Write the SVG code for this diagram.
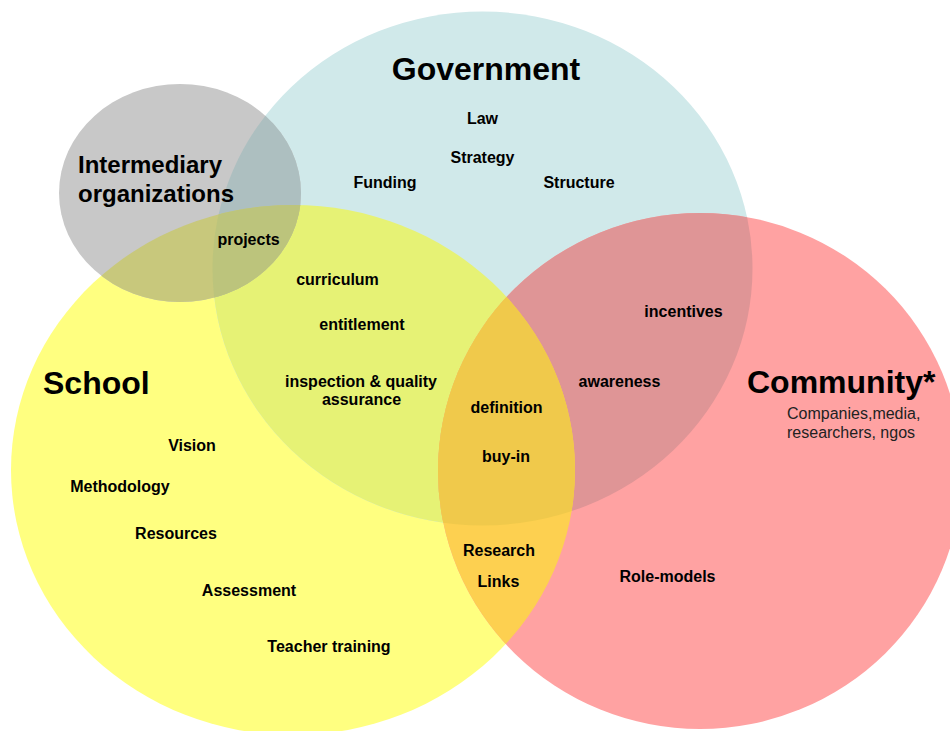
<svg xmlns="http://www.w3.org/2000/svg" xmlns:xlink="http://www.w3.org/1999/xlink" width="950" height="731" viewBox="0 0 950 731">
  <style>
    text { font-family: "Liberation Sans", Arial, sans-serif; fill: #000; }
    .title { font-size: 32px; font-weight: bold; }
    .sub { font-size: 24px; font-weight: bold; }
    .lbl { font-size: 16px; font-weight: bold; text-anchor: middle; }
    .note { font-size: 16px; fill: #222; }
  </style>
  <defs>
    <ellipse id="gov" cx="482.5" cy="268.5" rx="270" ry="257"/>
    <ellipse id="sch" cx="293" cy="470" rx="282" ry="265"/>
    <ellipse id="com" cx="700" cy="471" rx="262" ry="258"/>
    <ellipse id="int" cx="180" cy="193" rx="121" ry="109"/>
    <clipPath id="cGov"><use xlink:href="#gov"/></clipPath>
    <clipPath id="cSch"><use xlink:href="#sch"/></clipPath>
    <clipPath id="cCom"><use xlink:href="#com"/></clipPath>
    <clipPath id="cInt"><use xlink:href="#int"/></clipPath>
  </defs>

  <rect width="950" height="731" fill="#fff"/>

  <!-- base sets -->
  <g id="school"><use xlink:href="#sch" fill="#ffff80"/></g>
  <g id="government"><use xlink:href="#gov" fill="#d0e9ea"/></g>
  <g id="community"><use xlink:href="#com" fill="#ffa2a2"/></g>
  <g id="intermediary"><use xlink:href="#int" fill="#c8c8c8"/></g>

  <!-- shared regions -->
  <g id="overlaps">
    <use xlink:href="#gov" fill="#e6f275" clip-path="url(#cSch)"/>
    <use xlink:href="#gov" fill="#df9596" clip-path="url(#cCom)"/>
    <use xlink:href="#sch" fill="#fdd050" clip-path="url(#cCom)"/>
    <g clip-path="url(#cGov)"><use xlink:href="#sch" fill="#f0c94b" clip-path="url(#cCom)"/></g>
    <use xlink:href="#int" fill="#adbfc0" clip-path="url(#cGov)"/>
    <use xlink:href="#int" fill="#c8c87c" clip-path="url(#cSch)"/>
    <g clip-path="url(#cGov)"><use xlink:href="#int" fill="#bcc47c" clip-path="url(#cSch)"/></g>
  </g>

  <!-- titles -->
  <g id="titles">
    <text class="title" x="486" y="80" text-anchor="middle">Government</text>
    <text class="title" x="43" y="394">School</text>
    <text class="title" x="747" y="393">Community*</text>
    <text class="note" x="787" y="419">Companies,media,</text>
    <text class="note" x="787" y="438">researchers, ngos</text>
    <text class="sub" x="78" y="173">Intermediary</text>
    <text class="sub" x="78" y="202">organizations</text>
  </g>

  <!-- government items -->
  <g id="gov-labels">
    <text class="lbl" x="482.5" y="124">Law</text>
    <text class="lbl" x="482.5" y="163">Strategy</text>
    <text class="lbl" x="385" y="188">Funding</text>
    <text class="lbl" x="579" y="188">Structure</text>
  </g>

  <!-- school items -->
  <g id="school-labels">
    <text class="lbl" x="192" y="451">Vision</text>
    <text class="lbl" x="120" y="492">Methodology</text>
    <text class="lbl" x="176" y="539">Resources</text>
    <text class="lbl" x="249" y="596">Assessment</text>
    <text class="lbl" x="329" y="652">Teacher training</text>
  </g>

  <!-- school & government -->
  <g id="school-gov-labels">
    <text class="lbl" x="248.5" y="245">projects</text>
    <text class="lbl" x="337.5" y="285">curriculum</text>
    <text class="lbl" x="362" y="330">entitlement</text>
    <text class="lbl" x="361" y="387">inspection &amp; quality</text>
    <text class="lbl" x="361.5" y="405">assurance</text>
  </g>

  <!-- centre and community items -->
  <g id="centre-labels">
    <text class="lbl" x="506.5" y="413">definition</text>
    <text class="lbl" x="506" y="462">buy-in</text>
    <text class="lbl" x="499" y="556">Research</text>
    <text class="lbl" x="498.5" y="587">Links</text>
  </g>
  <g id="community-labels">
    <text class="lbl" x="683.5" y="317">incentives</text>
    <text class="lbl" x="619.5" y="387">awareness</text>
    <text class="lbl" x="667.5" y="582">Role-models</text>
  </g>
</svg>
